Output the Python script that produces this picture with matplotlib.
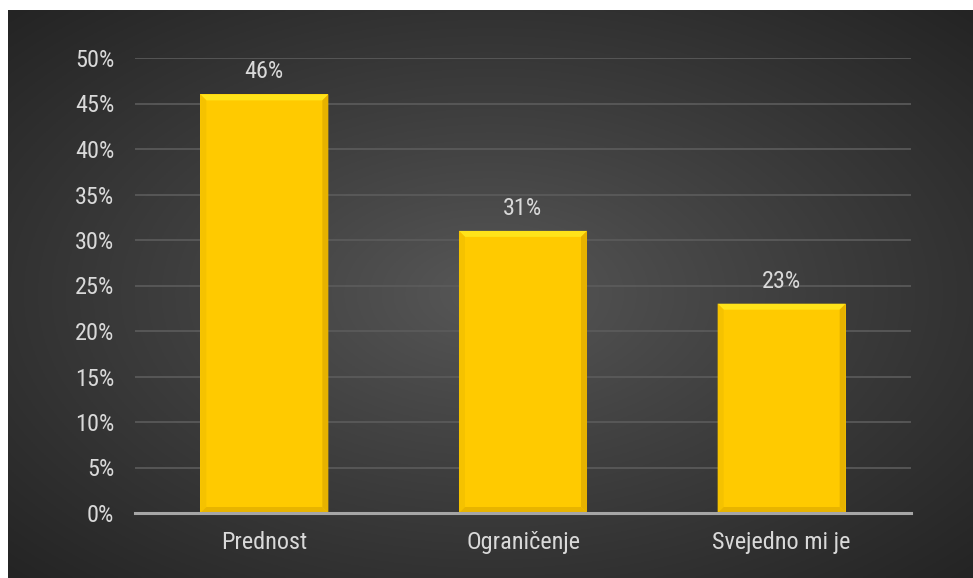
import numpy as np
import matplotlib
matplotlib.use("Agg")
import matplotlib.pyplot as plt
from matplotlib.patches import Polygon

categories = ["Prednost", "Ograničenje", "Svejedno mi je"]
values = [46, 31, 23]
yticks = [0, 5, 10, 15, 20, 25, 30, 35, 40, 45, 50]

plt.rcParams['font.family'] = ['Liberation Sans Narrow', 'Roboto Condensed', 'Archivo Narrow',
                               'Liberation Sans', 'DejaVu Sans']
text_col = '#d9d9d9'

W, H = 973, 578
fig = plt.figure(figsize=(W / 100, H / 100), dpi=100)
fig.patch.set_facecolor('white')

# dark panel with radial gradient
bg = fig.add_axes([8 / W, 0, (W - 8) / W, (H - 10) / H])
bg.set_axis_off()
yy, xx = np.mgrid[-1:1:300j, -1:1:500j]
r = np.sqrt(xx ** 2 + yy ** 2) / np.sqrt(2)
r = np.clip(r, 0, 1)
inner = np.array([0x58, 0x58, 0x58]) / 255
outer = np.array([0x24, 0x24, 0x24]) / 255
t = r[..., None] ** 0.9
img = inner * (1 - t) + outer * t
bg.imshow(img, aspect='auto', extent=[0, 1, 0, 1])

ax = fig.add_axes([135 / W, 65 / H, 776 / W, 455 / H])
ax.patch.set_alpha(0)
x = np.arange(len(categories))
bars = ax.bar(x, values, width=0.495, color='#FFCA00', zorder=3)
ax.set_xlim(-0.5, len(categories) - 0.5)
ax.set_ylim(0, 50)
ax.set_yticks(yticks)
ax.set_yticklabels([f"{v}%" for v in yticks])
ax.set_xticks(x)
ax.set_xticklabels(categories)
ax.tick_params(axis='both', length=0, colors=text_col, labelsize=17.5)
ax.tick_params(axis='y', pad=15)
ax.tick_params(axis='x', pad=13)
ax.grid(axis='y', color='#5c5c5c', linewidth=1.2, zorder=0)
for s in ['top', 'right', 'left']:
    ax.spines[s].set_visible(False)
ax.spines['bottom'].set_color('#a6a6a6')
ax.spines['bottom'].set_linewidth(2.2)
ax.spines['bottom'].set_zorder(4)

# bevel edges derived from each bar's rectangle
fig.canvas.draw()
inv = ax.transData.inverted()
bw_px = 6
for b in bars:
    x0, y0 = b.get_x(), b.get_y()
    x1, y1 = x0 + b.get_width(), y0 + b.get_height()
    p0 = ax.transData.transform((x0, y0))
    p1 = ax.transData.transform((x1, y1))
    q0 = inv.transform((p0[0] + bw_px, p0[1] + bw_px))
    q1 = inv.transform((p1[0] - bw_px, p1[1] - bw_px))
    top = Polygon([(x0, y1), (x1, y1), (q1[0], q1[1]), (q0[0], q1[1])], color='#FFE31A', zorder=4, lw=0)
    left = Polygon([(x0, y0), (x0, y1), (q0[0], q1[1]), (q0[0], q0[1])], color='#F5C200', zorder=4, lw=0)
    right = Polygon([(x1, y0), (x1, y1), (q1[0], q1[1]), (q1[0], q0[1])], color='#E6B200', zorder=4, lw=0)
    bottom = Polygon([(x0, y0), (x1, y0), (q1[0], q0[1]), (q0[0], q0[1])], color='#E8B400', zorder=4, lw=0)
    for p in (top, left, right, bottom):
        ax.add_patch(p)
    ax.annotate(f"{int(round(b.get_height()))}%", (b.get_x() + b.get_width() / 2, y1),
                xytext=(0, 8), textcoords='offset points', ha='center', va='bottom',
                color=text_col, fontsize=17.5)

fig.savefig("out.png", dpi=100, facecolor=fig.get_facecolor())
